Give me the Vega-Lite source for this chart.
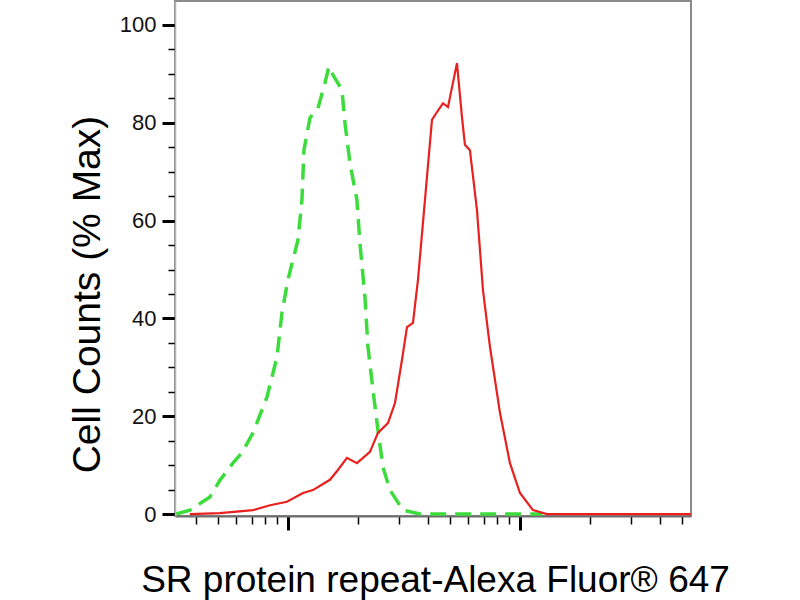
{
  "$schema": "https://vega.github.io/schema/vega-lite/v6.json",
  "description": "Flow cytometry histogram overlay: isotype control (green dashed) vs SR protein repeat stained cells (red).",
  "width": 516,
  "height": 515,
  "autosize": "none",
  "padding": {"left": 175, "top": 1, "right": 109, "bottom": 84},
  "background": "white",
  "config": {
    "font": "Liberation Sans",
    "view": {"stroke": "#8a8a8a", "strokeWidth": 2}
  },
  "datasets": {
    "control": [
      {"intensity": 330, "count": 0},
      {"intensity": 378, "count": 0.8},
      {"intensity": 461, "count": 3.5},
      {"intensity": 509, "count": 6.9},
      {"intensity": 579, "count": 10.4},
      {"intensity": 633, "count": 12.5},
      {"intensity": 707, "count": 16.6},
      {"intensity": 812, "count": 23.9},
      {"intensity": 897, "count": 32.1},
      {"intensity": 942, "count": 41.1},
      {"intensity": 1000, "count": 47.9},
      {"intensity": 1104, "count": 56.0},
      {"intensity": 1149, "count": 64.2},
      {"intensity": 1172, "count": 74.4},
      {"intensity": 1244, "count": 81.0},
      {"intensity": 1347, "count": 83.0},
      {"intensity": 1443, "count": 88.1},
      {"intensity": 1502, "count": 91.5},
      {"intensity": 1563, "count": 89.8},
      {"intensity": 1709, "count": 86.7},
      {"intensity": 1761, "count": 80.0},
      {"intensity": 1850, "count": 71.8},
      {"intensity": 1983, "count": 64.2},
      {"intensity": 2043, "count": 55.4},
      {"intensity": 2147, "count": 44.4},
      {"intensity": 2212, "count": 34.2},
      {"intensity": 2325, "count": 25.4},
      {"intensity": 2443, "count": 17.2},
      {"intensity": 2568, "count": 9.6},
      {"intensity": 2753, "count": 4.9},
      {"intensity": 3131, "count": 0.8},
      {"intensity": 3707, "count": 0},
      {"intensity": 12500, "count": 0}
    ],
    "sample": [
      {"intensity": 378, "count": 0},
      {"intensity": 509, "count": 0.2},
      {"intensity": 707, "count": 0.8},
      {"intensity": 837, "count": 1.8},
      {"intensity": 990, "count": 2.5},
      {"intensity": 1161, "count": 4.3},
      {"intensity": 1281, "count": 4.9},
      {"intensity": 1517, "count": 7.0},
      {"intensity": 1642, "count": 9.0},
      {"intensity": 1796, "count": 11.5},
      {"intensity": 1983, "count": 10.4},
      {"intensity": 2257, "count": 12.7},
      {"intensity": 2443, "count": 16.6},
      {"intensity": 2698, "count": 18.6},
      {"intensity": 2893, "count": 22.7},
      {"intensity": 3100, "count": 31.5},
      {"intensity": 3259, "count": 38.2},
      {"intensity": 3458, "count": 39.1},
      {"intensity": 3634, "count": 47.9},
      {"intensity": 3895, "count": 64.2},
      {"intensity": 4176, "count": 80.6},
      {"intensity": 4388, "count": 82.2},
      {"intensity": 4658, "count": 84.0},
      {"intensity": 4894, "count": 83.2},
      {"intensity": 5352, "count": 92.2},
      {"intensity": 5623, "count": 81.2},
      {"intensity": 5793, "count": 75.5},
      {"intensity": 6086, "count": 74.4},
      {"intensity": 6526, "count": 62.2},
      {"intensity": 6928, "count": 45.8},
      {"intensity": 7425, "count": 34.2},
      {"intensity": 8200, "count": 20.7},
      {"intensity": 9056, "count": 10.4},
      {"intensity": 10000, "count": 4.3},
      {"intensity": 11380, "count": 0.8},
      {"intensity": 13070, "count": 0},
      {"intensity": 54600, "count": 0}
    ]
  },
  "encoding": {
    "x": {
      "field": "intensity",
      "type": "quantitative",
      "scale": {"type": "log", "domain": [326, 54600], "nice": false},
      "axis": {
        "title": "SR protein repeat-Alexa Fluor® 647",
        "values": [400, 500, 600, 700, 800, 900, 1000, 2000, 3000, 4000, 5000, 6000, 7000, 8000, 9000, 10000, 20000, 30000, 40000, 50000],
        "labels": false,
        "grid": false,
        "domainColor": "#6e6e6e",
        "domainWidth": 2,
        "tickColor": "black",
        "tickSize": {"condition": {"test": "datum.value == 1000 || datum.value == 10000", "value": 14}, "value": 8},
        "tickWidth": {"condition": {"test": "datum.value == 1000 || datum.value == 10000", "value": 3}, "value": 1.5},
        "titleFont": "Liberation Sans",
        "titleFontSize": 37,
        "titleFontWeight": "normal",
        "titleColor": "black",
        "titleAlign": "center",
        "titleBaseline": "alphabetic",
        "titleX": 260,
        "titleY": 75
      }
    },
    "y": {
      "field": "count",
      "type": "quantitative",
      "scale": {"domain": [-0.4, 104.9], "nice": false, "zero": false},
      "axis": {
        "title": "Cell Counts (% Max)",
        "values": [0, 5, 10, 15, 20, 25, 30, 35, 40, 45, 50, 55, 60, 65, 70, 75, 80, 85, 90, 95, 100],
        "labelExpr": "datum.value % 20 == 0 ? datum.label : ''",
        "grid": false,
        "domainColor": "#b5b5b5",
        "domainWidth": 1.5,
        "tickColor": "black",
        "tickSize": {"condition": {"test": "datum.value % 20 == 0", "value": 13}, "value": 7},
        "tickWidth": {"condition": {"test": "datum.value % 20 == 0", "value": 3}, "value": 1.5},
        "labelFont": "Liberation Sans",
        "labelFontSize": 22,
        "labelColor": "#111111",
        "labelPadding": 6,
        "titleFont": "Liberation Sans",
        "titleFontSize": 39,
        "titleFontWeight": "normal",
        "titleColor": "black",
        "titleAngle": -90,
        "titleAlign": "center",
        "titleBaseline": "alphabetic",
        "titleX": -76,
        "titleY": 293
      }
    }
  },
  "layer": [
    {
      "data": {"name": "control"},
      "mark": {"type": "line", "color": "#3ddc3d", "strokeWidth": 3.5, "strokeDash": [16, 9]}
    },
    {
      "data": {"name": "sample"},
      "mark": {"type": "line", "color": "#e8201e", "strokeWidth": 2.2}
    }
  ]
}
